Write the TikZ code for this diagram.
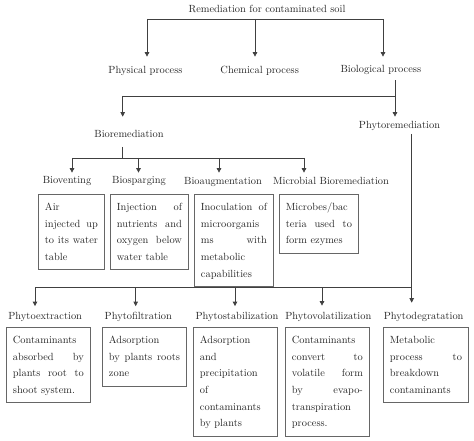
\documentclass[tikz,border=0pt]{standalone}
\usetikzlibrary{arrows.meta}
\begin{document}
\begin{tikzpicture}[x=1pt,y=-1pt,line width=0.7pt,draw=black!75,
  font={\fontsize{10.4}{16.7}\selectfont},
  lbl/.style={inner sep=1pt,text height=7.5pt,text depth=2.5pt,text=black!85},
  txtbox/.style={draw=black!60,line width=0.9pt,text=black!85,anchor=north west,
    align=justify,text width=#1,inner xsep=6.5pt,inner ysep=4.2pt,
    execute at begin node=\strut,execute at end node=\strut},
  arr/.style={-{Triangle[length=4.5pt,width=4.5pt]}}]

\useasboundingbox (0,0) rectangle (474,441);

\node[lbl] (title) at (267,10) {Remediation for contaminated soil};

\node[lbl] (phys) at (145.5,71) {Physical process};
\node[lbl] (chem) at (259.7,71) {Chemical process};
\node[lbl] (bio)  at (380.8,70) {Biological process};

\node[lbl] (biorem) at (129,135.5) {Bioremediation};
\node[lbl] (phyto)  at (399.5,126.5) {Phytoremediation};

\node[lbl] (bvent) at (67,180.5)  {Bioventing};
\node[lbl] (bspar) at (139,180.5) {Biosparging};
\node[lbl] (baug)  at (223,182)   {Bioaugmentation};
\node[lbl] (micro) at (331,182.5) {Microbial Bioremediation};

\node[txtbox=53pt] (ubox1) at (38,194)  {Air\linebreak injected up\linebreak to its water\linebreak table};
\node[txtbox=65pt] (ubox2) at (110,194) {Injection of\linebreak nutrients and\linebreak oxygen below\linebreak water table};
\node[txtbox=66pt] (ubox3) at (194,194) {Inoculation of\linebreak microorganis\linebreak ms with\linebreak metabolic\linebreak capabilities};
\node[txtbox=66pt] (ubox4) at (279,194) {Microbes/bac\linebreak teria used to\linebreak form ezymes};

\node[lbl] (pext)  at (45.2,317)  {Phytoextraction};
\node[lbl] (pfil)  at (138.3,317) {Phytofiltration};
\node[lbl] (pstab) at (237,317)   {Phytostabilization};
\node[lbl] (pvol)  at (328.3,317) {Phytovolatilization};
\node[lbl] (pdeg)  at (423.7,317) {Phytodegratation};

\node[txtbox=71pt] (bbox1) at (6,327)   {Contaminants\linebreak absorbed by\linebreak plants root to\linebreak shoot system.};
\node[txtbox=71pt] (bbox2) at (102,327) {Adsorption\linebreak by plants roots\linebreak zone};
\node[txtbox=71pt] (bbox3) at (193,327) {Adsorption\linebreak and\linebreak precipitation\linebreak of\linebreak contaminants\linebreak by plants};
\node[txtbox=71pt] (bbox4) at (285,327) {Contaminants\linebreak convert to\linebreak volatile form\linebreak by evapo-\linebreak transpiration\linebreak process.};
\node[txtbox=72pt] (bbox5) at (383,327) {Metabolic\linebreak process to\linebreak breakdown\linebreak contaminants};

% top level
\coordinate (tl) at (147,19);
\coordinate (tm) at (255,19);
\coordinate (tr) at (383,19);
\draw (tl) -- (tr);
\draw[arr,shorten >=8pt] (tl) -- (tl |- phys.north);
\draw[arr,shorten >=8pt] (tm) -- (tm |- chem.north);
\draw[arr,shorten >=7pt] (tr) -- (tr |- bio.north);

% biological process
\coordinate (ml) at (122.7,96);
\coordinate (mr) at (395,96);
\draw[shorten <=4pt] (bio.south -| mr) -- (mr) -- (ml);
\draw[arr,shorten >=12.5pt] (ml) -- (ml |- biorem.north);
\draw[arr,shorten >=3.5pt] (mr) -- (mr |- phyto.north);

% bioremediation
\coordinate (bc) at (122.7,158);
\coordinate (b1) at (72,158);
\coordinate (b2) at (138.5,158);
\coordinate (b3) at (219,158);
\coordinate (b4) at (304,158);
\draw[shorten <=5pt] (biorem.south -| bc) -- (bc);
\draw (b1) -- (b4);
\draw[arr,shorten >=1.5pt] (b1) -- (b1 |- bvent.north);
\draw[arr,shorten >=1.5pt] (b2) -- (b2 |- bspar.north);
\draw[arr,shorten >=3pt] (b3) -- (b3 |- baug.north);
\draw[arr,shorten >=3.5pt] (b4) -- (b4 |- micro.north);

% phytoremediation
\coordinate (p1) at (35,287);
\coordinate (p2) at (135.7,287);
\coordinate (p3) at (235,287);
\coordinate (p4) at (322,287);
\coordinate (p5) at (411.7,287);
\draw[arr,shorten <=1pt,shorten >=8pt] (phyto.south -| p5) -- (p5 |- pdeg.north);
\draw (p1) -- (p5);
\draw[arr,shorten >=4.5pt] (p1) -- (p1 |- pext.north);
\draw[arr,shorten >=4.5pt] (p2) -- (p2 |- pfil.north);
\draw[arr,shorten >=4.5pt] (p3) -- (p3 |- pstab.north);
\draw[arr,shorten >=5pt] (p4) -- (p4 |- pvol.north);

\end{tikzpicture}
\end{document}
